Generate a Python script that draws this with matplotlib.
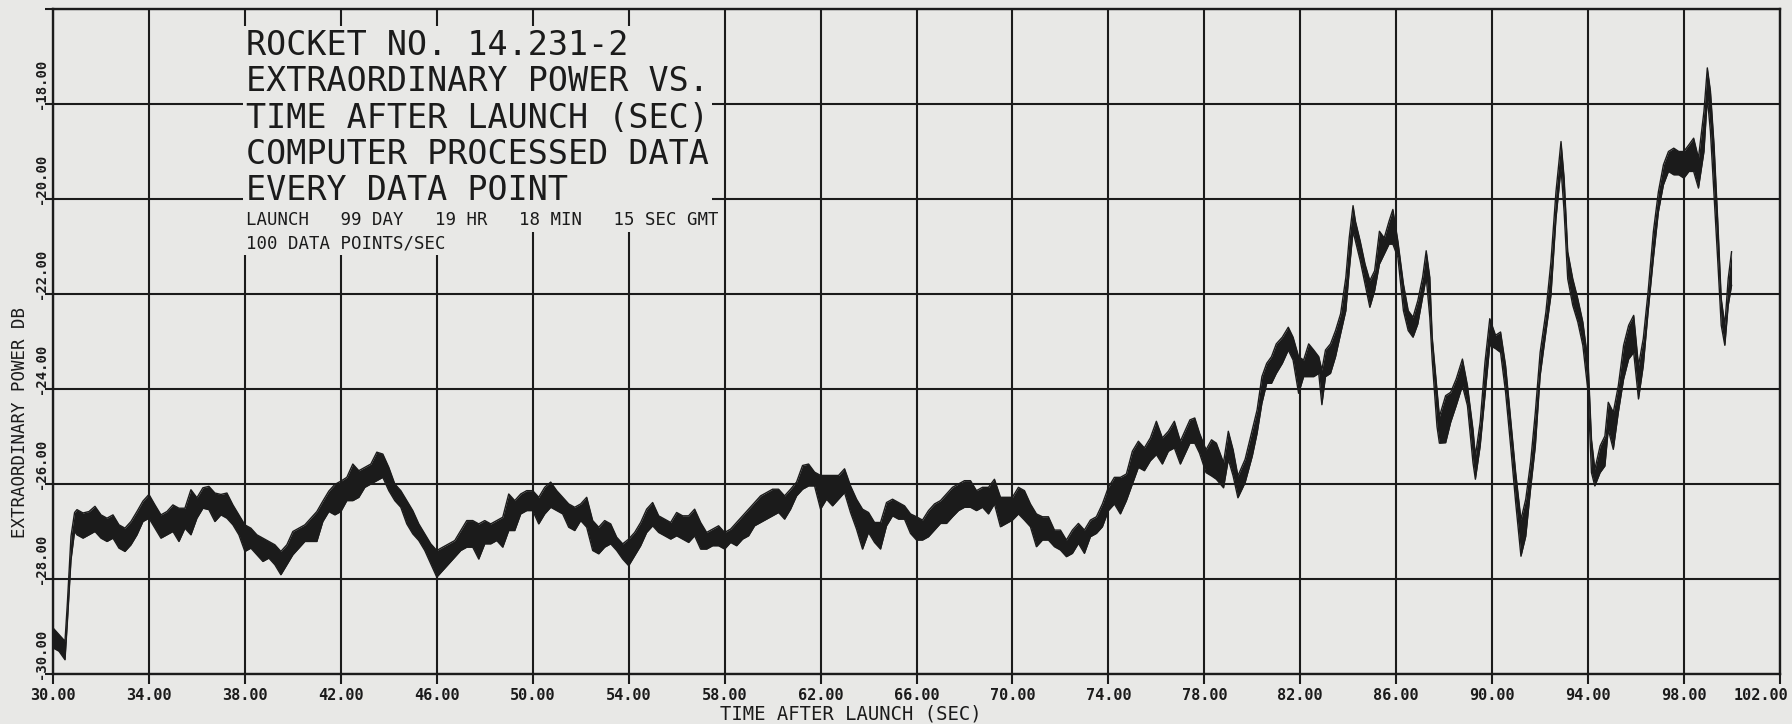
import matplotlib.pyplot as plt
from matplotlib.transforms import ScaledTranslation


# time after launch (sec)
time_s = [
    30.0, 30.25, 30.5, 30.6, 30.75, 30.9,
    31.0, 31.25, 31.5, 31.75, 32.0, 32.25, 32.5, 32.75, 33.0, 33.25, 33.5, 33.75,
    34.0, 34.25, 34.5, 34.75, 35.0, 35.25, 35.5, 35.75, 36.0, 36.25, 36.5, 36.75,
    37.0, 37.25, 37.5, 37.75, 38.0, 38.25, 38.5, 38.75, 39.0, 39.25, 39.5, 39.75,
    40.0, 40.25, 40.5, 40.75, 41.0, 41.25, 41.5, 41.75, 42.0,
    42.25, 42.5, 42.75, 43.0, 43.25, 43.5, 43.75, 44.0, 44.25, 44.5, 44.75,
    45.0, 45.25, 45.5, 45.75, 46.0, 46.25, 46.5, 46.75, 47.0, 47.25, 47.5, 47.75,
    48.0, 48.25, 48.5, 48.75, 49.0, 49.25, 49.5, 49.75, 50.0, 50.25, 50.5, 50.75,
    51.0, 51.25, 51.5, 51.75, 52.0, 52.25, 52.5, 52.75, 53.0, 53.25, 53.5, 53.75,
    54.0, 54.25, 54.5, 54.75, 55.0, 55.25, 55.5, 55.75, 56.0, 56.25, 56.5, 56.75,
    57.0, 57.25, 57.5, 57.75, 58.0, 58.25, 58.5, 58.75, 59.0, 59.25, 59.5, 59.75,
    60.0, 60.25, 60.5, 60.75, 61.0, 61.25, 61.5, 61.75, 62.0, 62.25, 62.5, 62.75,
    63.0, 63.25, 63.5, 63.75, 64.0, 64.25, 64.5, 64.75, 65.0, 65.25, 65.5,
    65.75, 66.0, 66.25, 66.5, 66.75, 67.0, 67.25, 67.5, 67.75, 68.0, 68.25, 68.5,
    68.75, 69.0, 69.25, 69.5, 69.75, 70.0, 70.25, 70.5, 70.75, 71.0, 71.25, 71.5,
    71.75, 72.0, 72.25, 72.5, 72.75, 73.0, 73.25, 73.5, 73.75, 74.0, 74.25, 74.5,
    74.75, 75.0, 75.25, 75.5, 75.75, 76.0, 76.25, 76.5, 76.75, 77.0,
    77.4, 77.6, 77.8, 78.07, 78.3, 78.5, 78.8, 79.0, 79.2, 79.4, 79.7, 80.0,
    80.2, 80.4, 80.6, 80.8, 81.0, 81.25, 81.5, 81.7, 81.93, 82.14, 82.35, 82.56,
    82.77, 82.9, 83.05, 83.26, 83.47, 83.68, 83.9, 84.04, 84.2, 84.3, 84.5, 84.7,
    84.9, 85.1, 85.3, 85.5, 85.7, 85.86, 86.07, 86.3, 86.5, 86.7, 86.9, 87.1,
    87.25, 87.4, 87.5, 87.7, 87.8,
    88.06, 88.27, 88.5, 88.76, 88.97, 89.2, 89.3, 89.5, 89.7, 89.9, 90.14, 90.35,
    90.56, 90.77, 90.98, 91.2, 91.4, 91.6, 91.8, 92.0, 92.24, 92.45, 92.66, 92.87,
    93.0, 93.15, 93.36, 93.57, 93.78, 94.0, 94.14, 94.28, 94.5, 94.7, 94.84, 95.05,
    95.26, 95.48, 95.69, 95.9, 96.1, 96.3, 96.5, 96.72, 96.93, 97.14, 97.35, 97.57,
    97.78, 97.99, 98.2, 98.4, 98.6, 98.83, 98.97, 99.1, 99.25, 99.4, 99.55, 99.7,
    99.84, 99.98,
]

# upper edge of the noisy trace (dB)
power_hi = [
    -29.03, -29.17, -29.31, -28.5, -27.1, -26.6,
    -26.54, -26.61, -26.58, -26.47, -26.65, -26.72, -26.65, -26.86, -26.93, -26.79, -26.58, -26.36,
    -26.22, -26.44, -26.65, -26.58, -26.44, -26.51, -26.51, -26.12, -26.29, -26.08, -26.05, -26.19,
    -26.22, -26.19, -26.44, -26.65, -26.86, -26.93, -27.07, -27.14, -27.21, -27.28, -27.42, -27.28,
    -27.00, -26.93, -26.86, -26.72, -26.58, -26.36, -26.15, -26.01, -25.94,
    -25.86, -25.58, -25.72, -25.65, -25.58, -25.33, -25.37, -25.65, -26.00, -26.14, -26.35,
    -26.56, -26.84, -27.05, -27.26, -27.40, -27.33, -27.26, -27.19, -26.98, -26.77, -26.77, -26.84,
    -26.77, -26.84, -26.77, -26.70, -26.21, -26.35, -26.21, -26.14, -26.14, -26.28, -26.07, -25.96,
    -26.14, -26.28, -26.42, -26.49, -26.42, -26.28, -26.77, -26.91, -26.77, -26.84, -27.12, -27.26,
    -27.16, -27.02, -26.81, -26.53, -26.39, -26.67, -26.74, -26.81, -26.60, -26.67, -26.67, -26.53,
    -26.81, -27.02, -26.95, -26.88, -27.02, -26.95, -26.81, -26.67, -26.53, -26.39, -26.25, -26.18,
    -26.11, -26.11, -26.25, -26.11, -25.96, -25.61, -25.58, -25.75, -25.82, -25.82, -25.82, -25.82,
    -25.68, -26.04, -26.32, -26.53, -26.60, -26.81, -26.81, -26.39, -26.32, -26.39, -26.46,
    -26.63, -26.69, -26.76, -26.56, -26.42, -26.35, -26.21, -26.07, -26.00, -25.93, -25.93, -26.14,
    -26.07, -26.07, -25.90, -26.28, -26.28, -26.28, -26.07, -26.14, -26.42, -26.63, -26.69, -26.69,
    -26.97, -26.97, -27.18, -26.97, -26.83, -26.97, -26.76, -26.69, -26.42, -26.07, -25.86, -25.86,
    -25.79, -25.31, -25.10, -25.24, -25.03, -24.68, -25.03, -24.89, -24.68, -25.10,
    -24.65, -24.61, -24.93, -25.28, -25.07, -25.14, -25.55, -24.89, -25.28, -25.83, -25.48, -24.86,
    -24.44, -23.74, -23.46, -23.32, -23.05, -22.91, -22.70, -22.91, -23.32, -23.39, -23.05, -23.18,
    -23.32, -23.60, -23.18, -23.05, -22.77, -22.42, -21.65, -20.82, -20.14, -20.47, -20.89, -21.37,
    -21.72, -21.51, -20.68, -20.82, -20.47, -20.22, -20.89, -21.79, -22.35, -22.49, -22.14, -21.65,
    -21.09, -21.65, -22.91, -24.02, -24.58,
    -24.14, -24.07, -23.79, -23.37, -23.93, -24.85, -25.41, -24.70, -23.44, -22.52, -22.87, -22.80,
    -23.51, -24.63, -25.76, -26.75, -26.32, -25.55, -24.49, -23.23, -22.38, -21.32, -19.85, -18.79,
    -19.56, -21.11, -21.68, -22.10, -22.59, -23.44, -25.06, -25.69, -25.20, -24.99, -24.28, -24.49,
    -23.93, -23.08, -22.66, -22.45, -23.51, -22.94, -21.96, -20.69, -19.85, -19.28, -19.00, -18.93,
    -19.00, -19.00, -18.86, -18.72, -19.14, -18.15, -17.24, -17.73, -18.86, -20.41, -22.10, -22.66,
    -21.68, -21.11,
]

# lower edge of the noisy trace (dB)
power_lo = [
    -29.45, -29.52, -29.70, -28.9, -27.6, -27.0,
    -27.07, -27.14, -27.07, -27.00, -27.14, -27.21, -27.14, -27.35, -27.42, -27.28, -27.07, -26.79,
    -26.72, -26.93, -27.14, -27.07, -27.00, -27.21, -26.93, -27.07, -26.72, -26.51, -26.54, -26.79,
    -26.65, -26.72, -26.86, -27.07, -27.42, -27.35, -27.49, -27.63, -27.56, -27.70, -27.91, -27.70,
    -27.49, -27.35, -27.21, -27.21, -27.21, -26.79, -26.58, -26.65, -26.58,
    -26.35, -26.35, -26.28, -26.07, -26.00, -25.93, -25.86, -26.14, -26.35, -26.49, -26.84,
    -27.05, -27.19, -27.40, -27.68, -27.96, -27.82, -27.68, -27.54, -27.40, -27.33, -27.33, -27.58,
    -27.26, -27.26, -27.19, -27.33, -26.98, -26.98, -26.63, -26.56, -26.56, -26.84, -26.63, -26.49,
    -26.56, -26.63, -26.91, -26.98, -26.77, -26.91, -27.40, -27.47, -27.33, -27.26, -27.40, -27.58,
    -27.72, -27.51, -27.30, -27.02, -26.88, -27.02, -27.09, -27.16, -27.09, -27.16, -27.23, -27.09,
    -27.37, -27.37, -27.30, -27.30, -27.37, -27.23, -27.30, -27.16, -27.09, -26.88, -26.81, -26.74,
    -26.67, -26.60, -26.74, -26.53, -26.25, -26.11, -26.04, -26.04, -26.53, -26.32, -26.46, -26.32,
    -26.18, -26.60, -26.95, -27.37, -27.02, -27.23, -27.37, -26.88, -26.67, -26.74, -26.74,
    -27.04, -27.18, -27.18, -27.11, -26.97, -26.83, -26.83, -26.69, -26.56, -26.49, -26.49, -26.56,
    -26.49, -26.63, -26.42, -26.90, -26.83, -26.76, -26.63, -26.76, -26.90, -27.32, -27.18, -27.18,
    -27.32, -27.39, -27.53, -27.46, -27.25, -27.46, -27.11, -27.04, -26.90, -26.56, -26.42, -26.63,
    -26.35, -26.00, -25.65, -25.72, -25.51, -25.38, -25.58, -25.31, -25.24, -25.58,
    -25.14, -25.14, -25.35, -25.76, -25.83, -25.90, -26.08, -25.48, -25.83, -26.29, -25.97, -25.41,
    -24.93, -24.30, -23.88, -23.88, -23.67, -23.46, -23.18, -23.39, -24.09, -23.74, -23.74, -23.74,
    -23.67, -24.33, -23.74, -23.67, -23.32, -22.84, -22.35, -21.51, -20.68, -20.89, -21.30, -21.79,
    -22.28, -21.93, -21.37, -21.16, -20.95, -20.95, -21.23, -22.35, -22.77, -22.91, -22.63, -22.07,
    -21.65, -22.49, -23.39, -24.79, -25.14,
    -25.13, -24.70, -24.35, -23.93, -24.35, -25.55, -25.90, -25.20, -24.14, -23.08, -23.15, -23.23,
    -24.07, -25.20, -26.39, -27.52, -27.10, -26.11, -25.20, -23.72, -22.80, -22.03, -20.41, -19.35,
    -20.27, -21.68, -22.24, -22.59, -23.08, -24.07, -25.76, -26.04, -25.76, -25.62, -24.85, -25.27,
    -24.49, -23.79, -23.37, -23.23, -24.21, -23.51, -22.38, -21.25, -20.27, -19.70, -19.42, -19.49,
    -19.49, -19.56, -19.42, -19.42, -19.77, -19.00, -17.87, -18.58, -19.92, -21.25, -22.66, -23.08,
    -22.24, -21.82,
]

assert len(time_s) == len(power_hi) == len(power_lo)

x_ticks = list(range(30, 103, 4))
y_ticks = [-30, -28, -26, -24, -22, -20, -18, -16]
y_labelled = y_ticks[:-1]

title_lines = [
    "ROCKET NO. 14.231-2",
    "EXTRAORDINARY POWER VS.",
    "TIME AFTER LAUNCH (SEC)",
    "COMPUTER PROCESSED DATA",
    "EVERY DATA POINT",
]
info_lines = [
    "LAUNCH   99 DAY   19 HR   18 MIN   15 SEC GMT",
    "100 DATA POINTS/SEC",
]

W, H = 1792, 724
PAPER = "#e8e8e6"
INK = "#1b1b1b"
MONO = "DejaVu Sans Mono"

fig = plt.figure(figsize=(W / 100, H / 100), dpi=100, facecolor=PAPER)
# plot box in pixels: left 53, right 1780, top 9, bottom 674
ax = fig.add_axes([53 / W, 1 - 674 / H, (1780 - 53) / W, (674 - 9) / H])
ax.set_facecolor(PAPER)

# thick noisy trace = band between the read upper and lower edges
ax.fill_between(time_s, power_lo, power_hi, color=INK, lw=0, zorder=3)
ax.plot(time_s, power_hi, color=INK, lw=1.0, zorder=3)
ax.plot(time_s, power_lo, color=INK, lw=1.0, zorder=3)

ax.set_xlim(30, 102)
ax.set_ylim(-30, -16)
ax.set_xticks(x_ticks)
ax.set_xticklabels([f"{v:.2f}" for v in x_ticks], fontfamily=MONO,
                   fontsize=11, fontweight="bold", color=INK)
ax.set_yticks(y_ticks)
ax.set_yticklabels([])
ax.grid(True, color=INK, lw=1.5)
ax.tick_params(axis="x", direction="out", length=7, width=1.5, pad=3, colors=INK)
ax.tick_params(axis="y", direction="out", length=6, width=1.5, colors=INK)
for s in ax.spines.values():
    s.set_color(INK)
    s.set_linewidth(1.7)

# last label runs into the page edge, keep it inside
last = ax.get_xticklabels()[-1]
last.set_horizontalalignment("right")
last.set_transform(last.get_transform() + ScaledTranslation(0.08, 0, fig.dpi_scale_trans))

# rotated y tick labels, minus sign sitting at the tick
lab_tr = ax.get_yaxis_transform() + ScaledTranslation(-0.12, -0.05, fig.dpi_scale_trans)
for v in y_labelled:
    ax.text(0, v, f"{v:.2f}", transform=lab_tr, rotation=90, ha="center", va="bottom",
            fontfamily=MONO, fontsize=10, fontweight="bold", color=INK, clip_on=False)

# title block, each line blanks out the grid behind it
box = dict(facecolor=PAPER, edgecolor="none", pad=2.5)
for i, line in enumerate(title_lines):
    txt = line if i == 0 else line.ljust(23)
    fig.text(246 / W, 1 - (55 + i * 36.25) / H, txt, fontfamily=MONO, fontsize=24,
             color=INK, ha="left", va="baseline", bbox=box)
for i, line in enumerate(info_lines):
    fig.text(246 / W, 1 - (225 + i * 23) / H, line, fontfamily=MONO, fontsize=12.5,
             color=INK, ha="left", va="baseline", bbox=box)

fig.text(720 / W, 1 - 720 / H, "TIME AFTER LAUNCH (SEC)", fontfamily=MONO, fontsize=13.6,
         color=INK, ha="left", va="baseline")
fig.text(20 / W, 1 - 422 / H, "EXTRAORDINARY POWER DB", fontfamily=MONO, fontsize=12.6,
         color=INK, rotation=90, ha="center", va="center")

fig.savefig("out.png", dpi=100, facecolor=PAPER)
